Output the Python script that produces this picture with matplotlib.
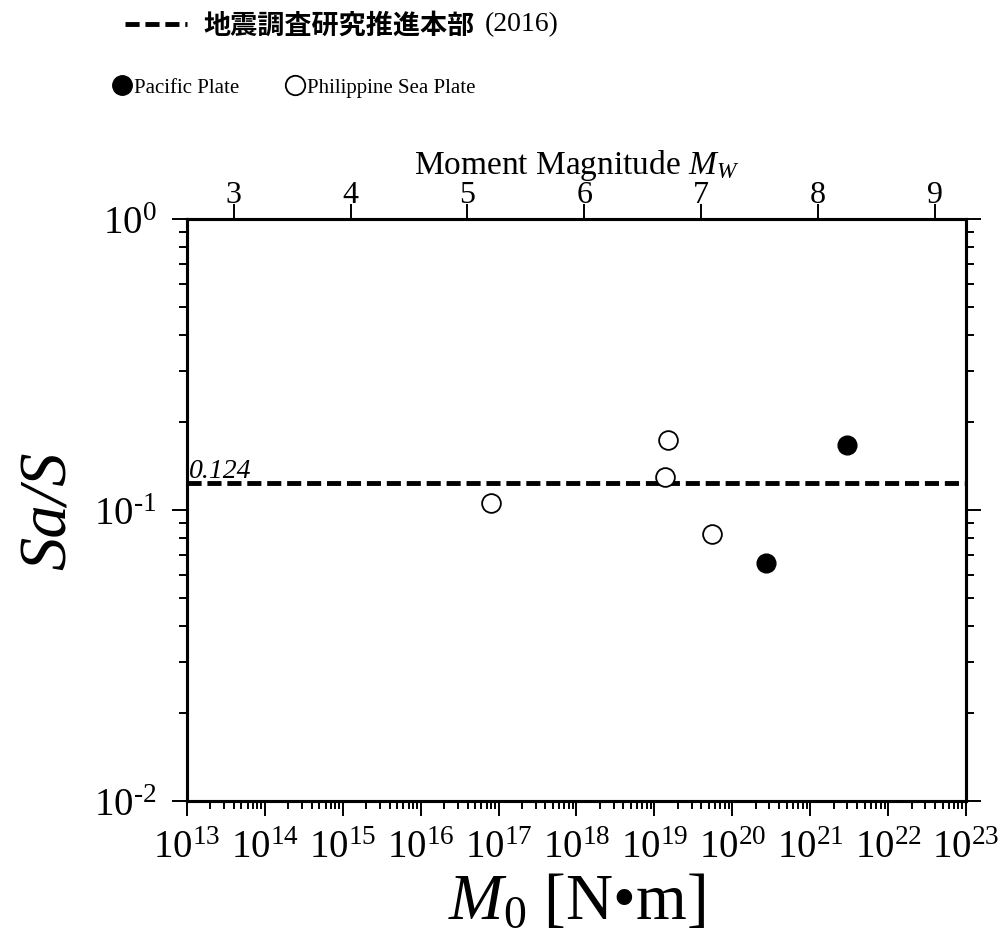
import numpy as np
import matplotlib
matplotlib.use("Agg")
import matplotlib.pyplot as plt
from matplotlib.lines import Line2D
from matplotlib.ticker import LogLocator, NullFormatter, FuncFormatter

plt.rcParams['font.family'] = ['Liberation Serif', 'Noto Sans CJK JP']
plt.rcParams['mathtext.fontset'] = 'custom'
plt.rcParams['mathtext.rm'] = 'Liberation Serif'
plt.rcParams['mathtext.it'] = 'Liberation Serif:italic'
plt.rcParams['axes.unicode_minus'] = False

# data
pac_m0 = [2.7e20, 2.95e21]
pac_ratio = [0.0658, 0.167]
phs_m0 = [7.9e16, 1.37e19, 1.5e19, 5.5e19]
phs_ratio = [0.1057, 0.130, 0.174, 0.0827]
jishin_ratio = 0.124          # 地震調査研究推進本部 (2016)
m0_lim = (1e13, 1e23)
ratio_lim = (1e-2, 1e0)
mw_ticks = [3, 4, 5, 6, 7, 8, 9]


def to_mw(m0):
    return (np.log10(m0) - 9.1) / 1.5


def pow10(v, pos):
    e = int(round(np.log10(v)))
    if e < 0:
        return r'$10^{\text{-}%d}$' % (-e)
    return r'$10^{%d}$' % e


fig = plt.figure(figsize=(10.01, 9.45), dpi=100)
ax = fig.add_axes([0.1868, 0.1513, 0.7782, 0.6159])

dash = (2.9, 1.2)
ax.axhline(jishin_ratio, color='k', lw=3.5, dashes=dash)
ax.plot(pac_m0, pac_ratio, 'o', ms=13.5, mfc='k', mec='k', ls='none')
ax.plot(phs_m0, phs_ratio, 'o', ms=13.5, mfc='w', mec='k', mew=1.3, ls='none')
ax.text(0.003, jishin_ratio, '0.124', transform=ax.get_yaxis_transform(),
        style='italic', fontsize=20, va='bottom', ha='left')

ax.set_xscale('log')
ax.set_yscale('log')
ax.set_xlim(m0_lim)
ax.set_ylim(ratio_lim)
ax.xaxis.set_major_locator(LogLocator(base=10, numticks=20))
ax.xaxis.set_minor_locator(LogLocator(base=10, subs=np.arange(2, 10), numticks=200))
ax.xaxis.set_minor_formatter(NullFormatter())
ax.yaxis.set_minor_locator(LogLocator(base=10, subs=np.arange(2, 10), numticks=200))
ax.yaxis.set_minor_formatter(NullFormatter())
ax.xaxis.set_major_formatter(FuncFormatter(pow10))
ax.yaxis.set_major_formatter(FuncFormatter(pow10))

ax.tick_params(which='both', direction='out', top=False, right=True, width=1.4)
ax.tick_params(which='major', length=11, labelsize=28)
ax.tick_params(axis='x', which='major', pad=9)
ax.tick_params(axis='y', which='major', pad=11)
ax.tick_params(which='minor', length=6)

ax.set_xlabel('$M_0$ [N•m]', fontsize=47, labelpad=5)
ax.set_ylabel('Sa/S', fontsize=48, style='italic', labelpad=10)

# top axis: moment magnitude
ax2 = ax.twiny()
ax2.set_xlim(to_mw(m0_lim[0]), to_mw(m0_lim[1]))
ax2.set_xticks(mw_ticks)
ax2.tick_params(direction='out', length=11, width=1.4, labelsize=23, pad=-4)
ax2.set_xlabel('Moment Magnitude $M_W$', fontsize=24, labelpad=5)

for a in (ax, ax2):
    for s in a.spines.values():
        s.set_linewidth(2.2)

# legends at the top
fig.legend(handles=[Line2D([], [], color='k', lw=3.5, dashes=dash)],
           labels=['地震調査研究推進本部'], loc='upper left',
           bbox_to_anchor=(125 / 1001, 1 - 12 / 945), frameon=False,
           borderpad=0, borderaxespad=0, handlelength=2.3, handletextpad=0.6,
           prop={'family': 'Noto Sans CJK JP', 'size': 19.5, 'weight': 'bold'})
fig.text(485 / 1001, 1 - 25 / 945, '(2016)', fontsize=20, va='center', ha='left')

pac_h = Line2D([], [], ls='none', marker='o', ms=14, mfc='k', mec='k')
phs_h = Line2D([], [], ls='none', marker='o', ms=14, mfc='w', mec='k', mew=1.3)
fig.legend(handles=[pac_h, phs_h], labels=['Pacific Plate', 'Philippine Sea Plate'],
           loc='center left', bbox_to_anchor=(112 / 1001, 1 - 88 / 945), ncol=2,
           frameon=False, borderpad=0, borderaxespad=0, handlelength=1.0,
           handletextpad=0.05, columnspacing=2.2, prop={'size': 15})

fig.savefig('out.png', dpi=100)
